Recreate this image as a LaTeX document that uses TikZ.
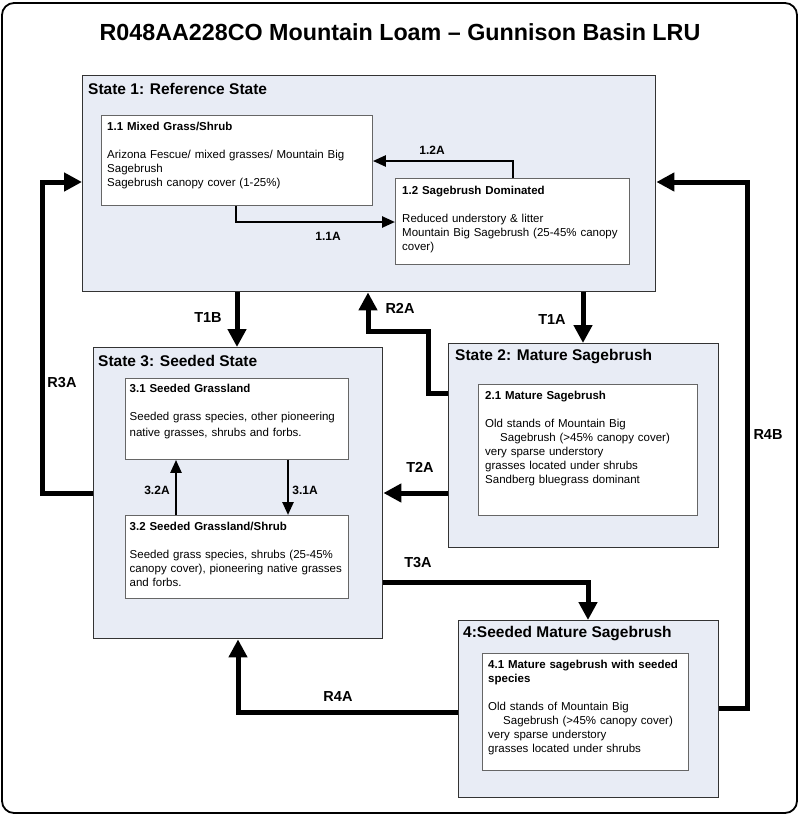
\documentclass[tikz,border=0pt]{standalone}
\usepackage{fontspec}
\setmainfont{Liberation Sans}
\usetikzlibrary{arrows.meta,positioning}
\definecolor{statefill}{RGB}{232,236,245}
\tikzset{
  statebox/.style={rectangle, draw=black!80, line width=1.4pt, fill=statefill, anchor=north west, inner sep=0pt},
  phasebox/.style={rectangle, draw=black!60, line width=0.9pt, fill=white, anchor=north west, inner sep=0pt},
  statename/.style={anchor=west, inner sep=0pt, font=\fontsize{15.5}{18}\selectfont\bfseries},
  phasetext/.style={inner sep=0pt, align=left, text width=260pt, font=\fontsize{11.5}{14}\selectfont},
  trans/.style={inner sep=0pt, font=\fontsize{14.5}{17}\selectfont\bfseries},
  ptrans/.style={inner sep=0pt, font=\fontsize{12}{14}\selectfont\bfseries},
  bigarrow/.style={line width=5pt, -{Triangle[length=18pt,width=18pt]}},
  smallarrow/.style={line width=2.5pt, -{Triangle[length=13pt,width=11pt]}},
}
\begin{document}
\begin{tikzpicture}[x=1pt, y=-1pt]
\useasboundingbox (0,0) rectangle (800,817);

\draw [line width=1.8pt, rounded corners=12pt] (2,3) rectangle (797,813);
\node(title) [font=\fontsize{23.3}{28}\selectfont\bfseries] at (400,32) {R048AA228CO Mountain Loam – Gunnison Basin LRU};

\node(s1) [statebox, minimum width=573pt, minimum height=216pt] at (82,75) {};
\node(s2) [statebox, minimum width=270pt, minimum height=204pt] at (448,343) {};
\node(s3) [statebox, minimum width=289pt, minimum height=291pt] at (93,347) {};
\node(s4) [statebox, minimum width=260pt, minimum height=177pt] at (458,620) {};

\node(s1t) [statename] at (88,89) {State 1: Reference State};
\node(s2t) [statename] at (455,357) {State 2: Mature Sagebrush};
\node(s3t) [statename] at (98,361) {State 3: Seeded State};
\node(s4t) [statename] at (463,634) {4:Seeded Mature Sagebrush};

\node(p11) [phasebox, minimum width=271pt, minimum height=90pt] at (101,115) {};
\node(p11t) [phasetext, below right=7pt and 6pt of p11.north west] {
	\textbf{1.1 Mixed Grass/Shrub}\\[14pt]
	Arizona Fescue/ mixed grasses/ Mountain Big\\
	Sagebrush\\
	Sagebrush canopy cover (1-25\%)
};

\node(p12) [phasebox, minimum width=234pt, minimum height=86pt] at (395,178) {};
\node(p12t) [phasetext, below right=8pt and 7pt of p12.north west] {
	\textbf{1.2 Sagebrush Dominated}\\[14pt]
	Reduced understory \& litter\\
	Mountain Big Sagebrush (25-45\% canopy\\
	cover)
};

\node(p21) [phasebox, minimum width=219pt, minimum height=131pt] at (478,384) {};
\node(p21t) [phasetext, below right=7pt and 7pt of p21.north west] {
	\textbf{2.1 Mature Sagebrush}\\[14pt]
	Old stands of Mountain Big\\
	\hspace*{15pt}Sagebrush (>45\% canopy cover)\\
	very sparse understory\\
	grasses located under shrubs\\
	Sandberg bluegrass dominant
};

\node(p31) [phasebox, minimum width=223pt, minimum height=81pt] at (125,378) {};
\node(p31t) [phasetext, font=\fontsize{11.5}{16.5}\selectfont, below right=6pt and 4.5pt of p31.north west] {
	\textbf{3.1 Seeded Grassland}\\[11pt]
	Seeded grass species, other pioneering\\
	native grasses, shrubs and forbs.
};

\node(p32) [phasebox, minimum width=223pt, minimum height=83pt] at (125,515) {};
\node(p32t) [phasetext, below right=7pt and 4.5pt of p32.north west] {
	\textbf{3.2 Seeded Grassland/Shrub}\\[14pt]
	Seeded grass species, shrubs (25-45\%\\
	canopy cover), pioneering native grasses\\
	and forbs.
};

\node(p41) [phasebox, minimum width=206pt, minimum height=117pt] at (482,653) {};
\node(p41t) [phasetext, below right=7pt and 6pt of p41.north west] {
	\textbf{4.1 Mature sagebrush with seeded}\\
	\textbf{species}\\[14pt]
	Old stands of Mountain Big\\
	\hspace*{15pt}Sagebrush (>45\% canopy cover)\\
	very sparse understory\\
	grasses located under shrubs
};

\coordinate (c11) at (236,222);
\coordinate (c12) at (513,161);
\draw [smallarrow] (p11.south -| c11) -- (c11) -- (c11 -| p12.west);
\draw [smallarrow] (p12.north -| c12) -- (c12) -- (c12 -| p11.east);
\draw [smallarrow] (p31.south -| 288,0) -- (p32.north -| 288,0);
\draw [smallarrow] (p32.north -| 176,0) -- (p31.south -| 176,0);

\coordinate (r2a) at (428,331);
\coordinate (r3a) at (42,182);
\coordinate (t3a) at (588,582);
\coordinate (r4a) at (238,712);
\coordinate (r4b) at (747,182);
\draw [bigarrow] (s1.south -| 237,0) -- (s3.north -| 237,0);
\draw [bigarrow] (s1.south -| 583,0) -- (s2.north -| 583,0);
\draw [bigarrow] (s2.west |- 0,393) -| (r2a) -| (s1.south -| 368,0);
\draw [bigarrow] (s2.west |- 0,493) -- (s3.east |- 0,493);
\draw [bigarrow] (s3.west |- 0,493) -| (r3a) -- (r3a -| s1.west);
\draw [bigarrow] (s3.east |- t3a) -| (s4.north -| t3a);
\draw [bigarrow] (s4.west |- r4a) -| (s3.south -| r4a);
\draw [bigarrow] (s4.east |- 0,708) -| (r4b) -- (r4b -| s1.east);

\node(l1) [trans] at (208,318) {T1B};
\node(l2) [trans] at (552,320) {T1A};
\node(l3) [trans] at (400,308) {R2A};
\node(l4) [trans] at (420,467) {T2A};
\node(l5) [trans] at (62,383) {R3A};
\node(l6) [trans] at (418,563) {T3A};
\node(l7) [trans] at (338,697) {R4A};
\node(l8) [trans] at (768,435) {R4B};
\node(l9) [ptrans] at (328,236) {1.1A};
\node(l10) [ptrans] at (432,150) {1.2A};
\node(l11) [ptrans] at (305,490) {3.1A};
\node(l12) [ptrans] at (157,490) {3.2A};

\end{tikzpicture}
\end{document}
